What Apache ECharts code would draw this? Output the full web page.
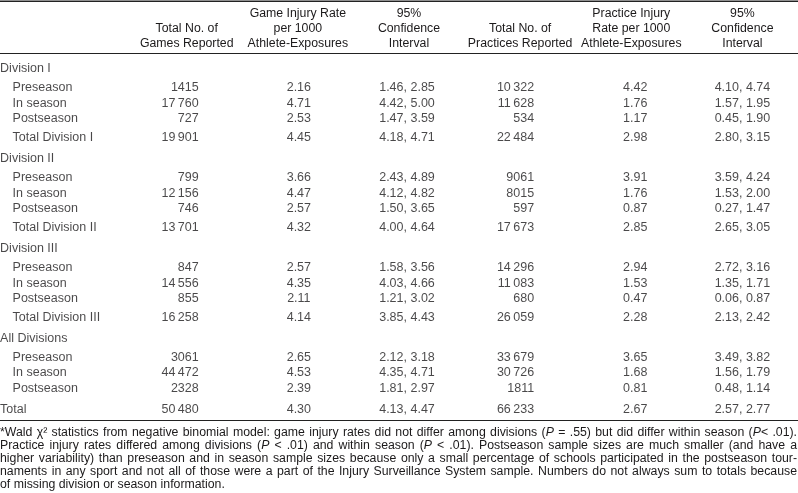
<!DOCTYPE html>
<html><head><meta charset="utf-8">
<script src="https://cdn.jsdelivr.net/npm/echarts/dist/echarts.min.js"></script>
<style>html,body{margin:0;padding:0;background:#fff}#c{width:798px;height:493px}</style>
</head><body><div id="c"></div>
<script>
// ---------- data ----------
const columnHeaders = ['', 'Total No. of\nGames Reported', 'Game Injury Rate\nper 1000\nAthlete-Exposures', '95%\nConfidence\nInterval', 'Total No. of\nPractices Reported', 'Practice Injury\nRate per 1000\nAthlete-Exposures', '95%\nConfidence\nInterval'];
const rowLabels = ['Division I', 'Preseason', 'In season', 'Postseason', 'Total Division I',
  'Division II', 'Preseason', 'In season', 'Postseason', 'Total Division II',
  'Division III', 'Preseason', 'In season', 'Postseason', 'Total Division III',
  'All Divisions', 'Preseason', 'In season', 'Postseason', 'Total'];
const rowKinds = ['group', 'sub', 'sub', 'sub', 'total',
  'group', 'sub', 'sub', 'sub', 'total',
  'group', 'sub', 'sub', 'sub', 'total',
  'group', 'sub', 'sub', 'sub', 'grand'];
const gamesReported = [null, 1415, 17760, 727, 19901, null, 799, 12156, 746, 13701, null, 847, 14556, 855, 16258, null, 3061, 44472, 2328, 50480];
const gameRate = [null, 2.16, 4.71, 2.53, 4.45, null, 3.66, 4.47, 2.57, 4.32, null, 2.57, 4.35, 2.11, 4.14, null, 2.65, 4.53, 2.39, 4.30];
const gameCILow = [null, 1.46, 4.42, 1.47, 4.18, null, 2.43, 4.12, 1.50, 4.00, null, 1.58, 4.03, 1.21, 3.85, null, 2.12, 4.35, 1.81, 4.13];
const gameCIHigh = [null, 2.85, 5.00, 3.59, 4.71, null, 4.89, 4.82, 3.65, 4.64, null, 3.56, 4.66, 3.02, 4.43, null, 3.18, 4.71, 2.97, 4.47];
const practicesReported = [null, 10322, 11628, 534, 22484, null, 9061, 8015, 597, 17673, null, 14296, 11083, 680, 26059, null, 33679, 30726, 1811, 66233];
const practiceRate = [null, 4.42, 1.76, 1.17, 2.98, null, 3.91, 1.76, 0.87, 2.85, null, 2.94, 1.53, 0.47, 2.28, null, 3.65, 1.68, 0.81, 2.67];
const practiceCILow = [null, 4.10, 1.57, 0.45, 2.80, null, 3.59, 1.53, 0.27, 2.65, null, 2.72, 1.35, 0.06, 2.13, null, 3.49, 1.56, 0.48, 2.57];
const practiceCIHigh = [null, 4.74, 1.95, 1.90, 3.15, null, 4.24, 2.00, 1.47, 3.05, null, 3.16, 1.71, 0.87, 2.42, null, 3.82, 1.79, 1.14, 2.77];
const footnoteLines = [
  '*Wald χ² statistics from negative binomial model: game injury rates did not differ among divisions ({i|P} = .55) but did differ within season ({i|P}< .01).',
  'Practice injury rates differed among divisions ({i|P} < .01) and within season ({i|P} < .01). Postseason sample sizes are much smaller (and have a',
  'higher variability) than preseason and in season sample sizes because only a small percentage of schools participated in the postseason tour-',
  'naments in any sport and not all of those were a part of the Injury Surveillance System sample. Numbers do not always sum to totals because',
  'of missing division or season information.'
];

// ---------- style / layout ----------
const FONT = "'Liberation Sans', Arial, Helvetica, sans-serif";
const INK = '#1c1a1b';
const W = 798;
const BODY_SIZE = 12.5;

// row positions (in row units) derived from row kinds
const rowPos = [];
rowKinds.forEach((k, i) => {
  if (i === 0) { rowPos.push(0); return; }
  const prev = rowKinds[i - 1];
  let gap = 1;
  if (k === 'sub' && prev === 'group') gap = 1.25;
  else if (k === 'total') gap = 1.25;
  else if (k === 'group' || k === 'grand') gap = 1.4;
  rowPos.push(rowPos[i - 1] + gap);
});
const maxPos = rowPos[rowPos.length - 1];

const fmtCount = v => v >= 10000 ? String(v).replace(/\B(?=(\d{3})+(?!\d))/g, '\u2009') : String(v);
const fmt2 = v => v.toFixed(2);

function cellSeries(col, texts, align, offX) {
  const data = [];
  texts.forEach((t, i) => { if (t !== null) data.push([col, rowPos[i], t]); });
  return {
    type: 'scatter', silent: true, symbolSize: 1,
    itemStyle: { color: 'transparent' },
    data,
    label: {
      show: true, position: 'inside', formatter: p => p.data[2],
      align, verticalAlign: 'middle', offset: [offX, 0],
      color: INK, fontSize: BODY_SIZE, fontFamily: FONT
    }
  };
}

const colGames = gamesReported.map(v => v === null ? null : fmtCount(v));
const colGameRate = gameRate.map(v => v === null ? null : fmt2(v));
const colGameCI = gameCILow.map((v, i) => v === null ? null : fmt2(v) + ', ' + fmt2(gameCIHigh[i]));
const colPractices = practicesReported.map(v => v === null ? null : fmtCount(v));
const colPracticeRate = practiceRate.map(v => v === null ? null : fmt2(v));
const colPracticeCI = practiceCILow.map((v, i) => v === null ? null : fmt2(v) + ', ' + fmt2(practiceCIHigh[i]));

const labelSeries = {
  type: 'scatter', silent: true, symbolSize: 1,
  itemStyle: { color: 'transparent' },
  data: rowLabels.map((t, i) => ({
    value: [0, rowPos[i], t],
    label: { offset: [(rowKinds[i] === 'group' || rowKinds[i] === 'grand') ? -75.5 : -63, 0] }
  })),
  label: {
    show: true, position: 'inside', formatter: p => p.data.value[2],
    align: 'left', verticalAlign: 'middle',
    color: INK, fontSize: BODY_SIZE, fontFamily: FONT
  }
};

// footnote, justified
const FN_SIZE = 12.3;
const ctx = document.createElement('canvas').getContext('2d');
function segs(word) {
  const out = []; const re = /\{i\|([^}]*)\}/g; let last = 0, m;
  while ((m = re.exec(word))) {
    if (m.index > last) out.push([word.slice(last, m.index), false]);
    out.push([m[1], true]); last = re.lastIndex;
  }
  if (last < word.length) out.push([word.slice(last), false]);
  return out;
}
function segW(t, it) { ctx.font = (it ? 'italic ' : '') + FN_SIZE + 'px ' + FONT; return ctx.measureText(t).width; }
const graphics = [];
const hr = (y, lw) => graphics.push({ type: 'line', silent: true, shape: { x1: 0, y1: y, x2: W, y2: y }, style: { stroke: '#222', lineWidth: lw } });
hr(1.25, 1.6); hr(53.5, 1); hr(420.5, 1.2);
footnoteLines.forEach((line, li) => {
  const y = 432.5 + li * 13;
  const words = line.split(' ');
  const ws = words.map(w => segs(w).reduce((s, [t, it]) => s + segW(t, it), 0));
  const total = ws.reduce((a, b) => a + b, 0);
  const justify = li < footnoteLines.length - 1;
  const spaceW = segW(' ', false);
  const gap = justify ? Math.max(spaceW * 0.5, (W - 1 - total) / (words.length - 1)) : spaceW;
  let x = 0;
  words.forEach((w, wi) => {
    let sx = x;
    segs(w).forEach(([t, it]) => {
      graphics.push({ type: 'text', silent: true, x: sx, y, style: { text: t, fill: INK, fontSize: FN_SIZE, fontFamily: FONT, fontStyle: it ? 'italic' : 'normal', align: 'left', verticalAlign: 'middle' } });
      sx += segW(t, it);
    });
    x += ws[wi] + gap;
  });
});

const chart = echarts.init(document.getElementById('c'), null, { renderer: 'canvas' });
chart.setOption({
  animation: false,
  backgroundColor: '#fff',
  grid: { left: 20, top: 69, width: 784, height: 340.5, containLabel: false },
  xAxis: {
    type: 'category', position: 'top', data: columnHeaders,
    axisLine: { show: false }, axisTick: { show: false }, splitLine: { show: false },
    axisLabel: { interval: 0, margin: 17.5, lineHeight: 15, color: INK, fontSize: 12.3, fontFamily: FONT, align: 'center' }
  },
  yAxis: { type: 'value', inverse: true, min: 0, max: maxPos, show: false, splitLine: { show: false } },
  series: [
    labelSeries,
    cellSeries(1, colGames, 'right', 12),
    cellSeries(2, colGameRate, 'center', 1),
    cellSeries(3, colGameCI, 'center', -2),
    cellSeries(4, colPractices, 'right', 14),
    cellSeries(5, colPracticeRate, 'center', 4),
    cellSeries(6, colPracticeCI, 'center', 0)
  ],
  graphic: graphics
});
</script></body></html>
